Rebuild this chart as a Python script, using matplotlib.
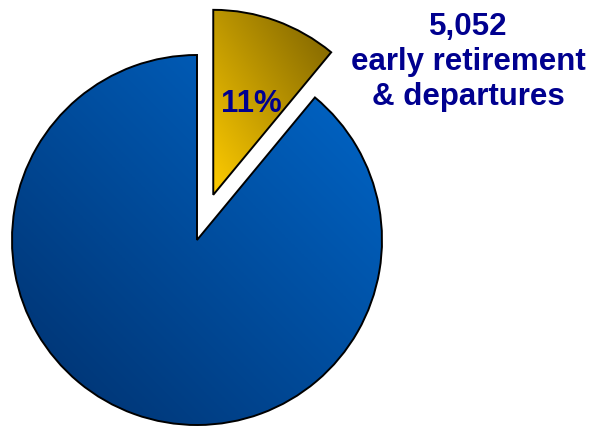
import matplotlib
matplotlib.use("Agg")
import matplotlib.pyplot as plt
import numpy as np
from matplotlib.colors import LinearSegmentedColormap

plt.rcParams["font.family"] = ["Liberation Sans", "DejaVu Sans"]

# shares of the workforce reduction
labels = ["early retirement & departures", "remaining"]
shares = [11, 89]
departures = 5052

# pie geometry in figure pixels (y up); explode is an absolute offset
center = (197, 186)
radius = 185
explode = [48, 0]

# gradient stops, (lower-left, upper-right) per slice
gradients = [("#ffcc00", "#7a6000"), ("#00306c", "#0068cc")]
text_color = "#00008f"

fig = plt.figure(figsize=(5.97, 4.26), dpi=100)
ax = fig.add_axes([0, 0, 1, 1])

wedges, _ = ax.pie(
    shares,
    explode=explode,
    center=center,
    radius=radius,
    startangle=90,
    counterclock=False,
    frame=True,
    wedgeprops=dict(facecolor="none", edgecolor="black", linewidth=1.4, zorder=3),
)

# fill each wedge with a diagonal gradient clipped to its outline
g = np.linspace(0, 1, 256)
diag = (g[None, :] + g[::-1, None]) / 2
for w, (c0, c1) in zip(wedges, gradients):
    bb = w.get_path().get_extents()
    cmap = LinearSegmentedColormap.from_list("grad", [c0, c1])
    im = ax.imshow(
        diag,
        cmap=cmap,
        extent=[bb.x0, bb.x1, bb.y0, bb.y1],
        origin="upper",
        aspect="auto",
        interpolation="bilinear",
        zorder=2,
    )
    im.set_clip_path(w)

ax.set_xlim(0, 597)
ax.set_ylim(0, 426)
ax.set_aspect("equal")
ax.axis("off")

ax.text(251, 426 - 104, f"{shares[0]}%", color=text_color, fontsize=22.5,
        fontweight="bold", ha="center", va="center", zorder=4)
ax.text(468, 426 - 62, f"{departures:,}\nearly retirement\n& departures",
        color=text_color, fontsize=22.5, fontweight="bold",
        ha="center", va="center", linespacing=1.2, zorder=4)

fig.savefig("out.png", dpi=100)
